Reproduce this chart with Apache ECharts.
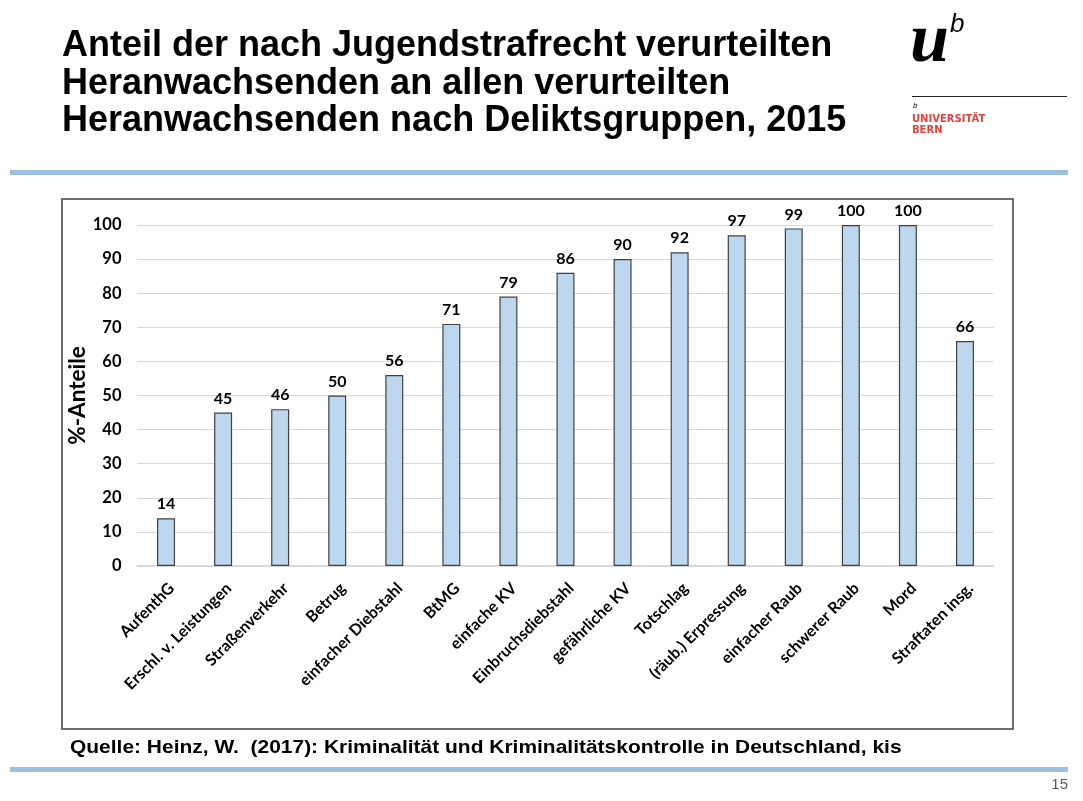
<!DOCTYPE html>
<html>
<head>
<meta charset="utf-8">
<script src="https://cdn.jsdelivr.net/npm/echarts@6/dist/echarts.min.js"></script>
<style>
html,body{margin:0;padding:0;background:#fff;}
#chart{width:1083px;height:801px;}
</style>
</head>
<body>
<div id="chart"></div>
<script>
const categories = ["AufenthG","Erschl. v. Leistungen","Straßenverkehr","Betrug","einfacher Diebstahl","BtMG","einfache KV","Einbruchsdiebstahl","gefährliche KV","Totschlag","(räub.) Erpressung","einfacher Raub","schwerer Raub","Mord","Straftaten insg."];
const values = [14,45,46,50,56,71,79,86,90,92,97,99,100,100,66];
const yTicks = {min:0, max:100, interval:10};
const titleLines = ["Anteil der nach Jugendstrafrecht verurteilten","Heranwachsenden an allen verurteilten","Heranwachsenden nach Deliktsgruppen, 2015"];
const sourceText = "Quelle: Heinz, W.  (2017): Kriminalität und Kriminalitätskontrolle in Deutschland, kis";
const yAxisName = "%-Anteile";

const chart = echarts.init(document.getElementById('chart'), null, {renderer:'canvas'});
const calibri = "Lato, 'Open Sans', sans-serif";

const graphics = [
  {type:'rect', shape:{x:10,y:170,width:1058,height:5}, style:{fill:'#9bc1de'}, z:-10},
  {type:'rect', shape:{x:10,y:767,width:1058,height:5}, style:{fill:'#9bc1de'}, z:-10},
  {type:'rect', shape:{x:62,y:199,width:951,height:530}, style:{fill:'none',stroke:'#404040',lineWidth:1.5}, z:-5},
  {type:'text', x:70, y:748, style:{text:sourceText, font:"bold 18.5px 'Liberation Sans', Arial, sans-serif", fill:'#000', verticalAlign:'middle'}, scaleX:1.133},
  {type:'text', x:1068, y:785, style:{text:'15', font:"15px 'Liberation Sans', Arial, sans-serif", fill:'#595959', align:'right', verticalAlign:'middle'}},
  {type:'text', x:910, y:43, style:{text:'u', font:"bold italic 70px 'Liberation Serif', 'DejaVu Serif', serif", fill:'#000', verticalAlign:'middle'}},
  {type:'text', x:950, y:25, style:{text:'b', font:"italic 26px 'Liberation Sans', Arial, sans-serif", fill:'#000', verticalAlign:'middle'}},
  {type:'line', shape:{x1:912,y1:96.5,x2:1067,y2:96.5}, style:{stroke:'#222',lineWidth:1.2}},
  {type:'text', x:913, y:105.5, style:{text:'b', font:"italic 8px 'Liberation Sans', Arial, sans-serif", fill:'#000', verticalAlign:'middle'}},
  {type:'text', x:912, y:119, style:{text:'UNIVERSITÄT', font:"bold 10px 'DejaVu Sans', sans-serif", fill:'#e8413c', verticalAlign:'middle'}},
  {type:'text', x:912, y:130, style:{text:'BERN', font:"bold 10px 'DejaVu Sans', sans-serif", fill:'#e8413c', verticalAlign:'middle'}}
];
titleLines.forEach((t,i)=>{
  graphics.push({type:'text', x:62, y:46.5+i*37.5, style:{text:t, font:"bold 36px 'Liberation Sans', Arial, sans-serif", fill:'#000', verticalAlign:'middle'}});
});

chart.setOption({
  animation:false,
  backgroundColor:'#fff',
  grid:{left:137.5, right:89.5, top:225, bottom:235, containLabel:false},
  xAxis:{
    type:'category', data:categories,
    axisLine:{show:true, lineStyle:{color:'#d9d9d9', width:2}},
    axisTick:{show:false},
    axisLabel:{interval:0, rotate:45, margin:14, verticalAlign:'top', fontFamily:calibri, fontWeight:'bold', fontSize:16, color:'#000'}
  },
  yAxis:{
    type:'value', min:yTicks.min, max:yTicks.max, interval:yTicks.interval,
    name:yAxisName, nameLocation:'middle', nameGap:48, nameRotate:90, nameMoveOverlap:false,
    nameTextStyle:{fontFamily:calibri, fontWeight:'bold', fontSize:22.5, color:'#000'},
    axisLine:{show:false}, axisTick:{show:false},
    axisLabel:{margin:16, fontFamily:calibri, fontWeight:'bold', fontSize:16.5, color:'#000'},
    splitLine:{lineStyle:{color:'#d9d9d9', width:1}}
  },
  series:[{
    type:'bar', data:values, barWidth:18,
    itemStyle:{color:'#bdd7ee', borderColor:'#404040', borderWidth:1.2},
    label:{show:true, position:'top', distance:6, fontFamily:calibri, fontWeight:'bold', fontSize:16, color:'#000'}
  }],
  graphic:graphics
});
</script>
</body>
</html>
